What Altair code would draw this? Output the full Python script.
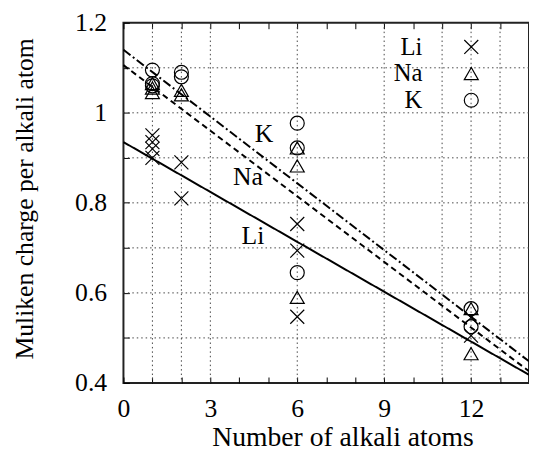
import altair as alt
import pandas as pd

species = ["Li", "Na", "K"]

li_x = [1, 1, 1, 1, 2, 2, 6, 6, 6, 12, 12]
li_y = [0.95, 0.935, 0.92, 0.90, 0.89, 0.81, 0.753, 0.694, 0.547, 0.545, 0.505]
na_x = [1, 1, 1, 2, 2, 6, 6, 6, 12, 12]
na_y = [1.065, 1.055, 1.045, 1.05, 1.04, 0.922, 0.882, 0.59, 0.565, 0.465]
k_x = [1, 1, 1, 2, 2, 6, 6, 6, 12, 12]
k_y = [1.095, 1.065, 1.06, 1.09, 1.08, 0.977, 0.922, 0.645, 0.565, 0.525]

fit_names = ["Li fit", "Na fit", "K fit"]
fit_x = [0, 14]
li_fit = [0.935, 0.418]
na_fit = [1.106, 0.426]
k_fit = [1.14, 0.448]

label_text = ["Li", "Na", "K"]
label_x = [4.47, 4.3, 4.85]
label_y = [0.727, 0.858, 0.953]

grid_x = [1, 2, 3, 6, 9, 11, 12, 13]
grid_y = [0.5, 0.6, 0.7, 0.8, 0.9, 1.0, 1.1]
x_labels = [0, 3, 6, 9, 12]
y_labels = [0.4, 0.6, 0.8, 1.0, 1.2]
x_minor = [0, 1, 2, 3, 4, 5, 6, 7, 8, 9, 10, 11, 12, 13, 14]
y_minor = [0.4, 0.5, 0.6, 0.7, 0.8, 0.9, 1.0, 1.1, 1.2]

W, H = 411, 365
FONT = "Liberation Serif"
XPATH = "M-1,-1L1,1M1,-1L-1,1"

pts = pd.DataFrame(
    {"species": ["Li"] * len(li_x) + ["Na"] * len(na_x) + ["K"] * len(k_x),
     "n": li_x + na_x + k_x,
     "q": li_y + na_y + k_y}
)
fits = pd.DataFrame(
    {"fit": [fit_names[0]] * 2 + [fit_names[1]] * 2 + [fit_names[2]] * 2,
     "n": fit_x * 3,
     "q": li_fit + na_fit + k_fit}
)
labels = pd.DataFrame({"t": label_text, "n": label_x, "q": label_y})
gx = pd.DataFrame({"n": grid_x})
gy = pd.DataFrame({"q": grid_y})

xs = alt.Scale(domain=[0, 14], nice=False, zero=False)
ys = alt.Scale(domain=[0.4, 1.2], nice=False, zero=False)

tick_axis = dict(labels=False, domain=False, grid=False, ticks=True, tickSize=6,
                 tickColor="black", tickWidth=1, title=None)

grid_v = alt.Chart(gx).mark_rule(color="#444", strokeDash=[1.5, 3], strokeWidth=1).encode(
    x=alt.X("n:Q", scale=xs,
            axis=alt.Axis(orient="bottom", values=x_labels, labelFont=FONT, labelFontSize=26,
                          labelColor="black", labelPadding=34, labelBaseline="alphabetic",
                          ticks=False, tickSize=0, domain=False, grid=False,
                          title="Number of alkali atoms", titleFont=FONT, titleFontSize=28,
                          titleFontWeight="normal", titleColor="black",
                          titleX=222, titleY=63, titleBaseline="alphabetic", titleAlign="center",
                          labelFlush=False))
)

grid_h = alt.Chart(gy).mark_rule(color="#444", strokeDash=[1.5, 3], strokeWidth=1).encode(
    y=alt.Y("q:Q", scale=ys,
            axis=alt.Axis(orient="left", values=y_labels, labelFont=FONT, labelFontSize=26,
                          labelColor="black", labelPadding=17, ticks=False, tickSize=0,
                          domain=False, grid=False,
                          format="~g", labelFlush=False,
                          title="Muliken charge per alkali atom", titleFont=FONT, titleFontSize=26,
                          titleFontWeight="normal", titleColor="black", titleAngle=-90,
                          titleX=-100, titleY=178, titleAlign="center", titleBaseline="middle"))
)

lines = alt.Chart(fits).mark_line(color="black", strokeWidth=2).encode(
    x=alt.X("n:Q", scale=xs, axis=alt.Axis(orient="top", offset=-H, values=x_minor, **tick_axis)),
    y=alt.Y("q:Q", scale=ys, axis=alt.Axis(orient="right", offset=-W, values=y_minor, **tick_axis)),
    detail="fit:N",
    strokeDash=alt.StrokeDash("fit:N",
                              scale=alt.Scale(domain=fit_names, range=[[1, 0], [6, 4], [9, 3, 2, 3]]),
                              legend=None),
)

points = alt.Chart(pts).mark_point(filled=False, size=200, strokeWidth=1.2, color="black", opacity=1).encode(
    x=alt.X("n:Q", scale=xs, axis=alt.Axis(orient="bottom", offset=-H, values=x_minor, **tick_axis)),
    y=alt.Y("q:Q", scale=ys, axis=None),
    shape=alt.Shape("species:N",
                    scale=alt.Scale(domain=species, range=[XPATH, "triangle-up", "circle"]),
                    legend=alt.Legend(orient="none", legendX=340, legendY=12, title=None,
                                      labelAlign="right", labelOffset={"expr": "-62"}, labelFont=FONT,
                                      labelFontSize=25, labelColor="black", labelBaseline="middle",
                                      symbolStrokeColor="black", symbolFillColor="transparent",
                                      symbolSize=200, symbolStrokeWidth=1.2, rowPadding=1,
                                      padding=0)),
)

texts = alt.Chart(labels).mark_text(font=FONT, fontSize=26, color="black", align="center",
                                    baseline="middle").encode(
    x=alt.X("n:Q", scale=xs, axis=None),
    y=alt.Y("q:Q", scale=ys, axis=None),
    text="t:N",
)

chart = alt.layer(grid_v, grid_h, lines, points, texts).resolve_axis(
    x="independent", y="independent"
).properties(
    width=W, height=H,
    autosize=alt.AutoSizeParams(type="none"),
    padding={"left": 117, "top": 12, "right": 0, "bottom": 66},
).configure_view(stroke="#222", strokeWidth=2)

chart.save("out.html", embed_options={"renderer": "svg", "actions": False})
